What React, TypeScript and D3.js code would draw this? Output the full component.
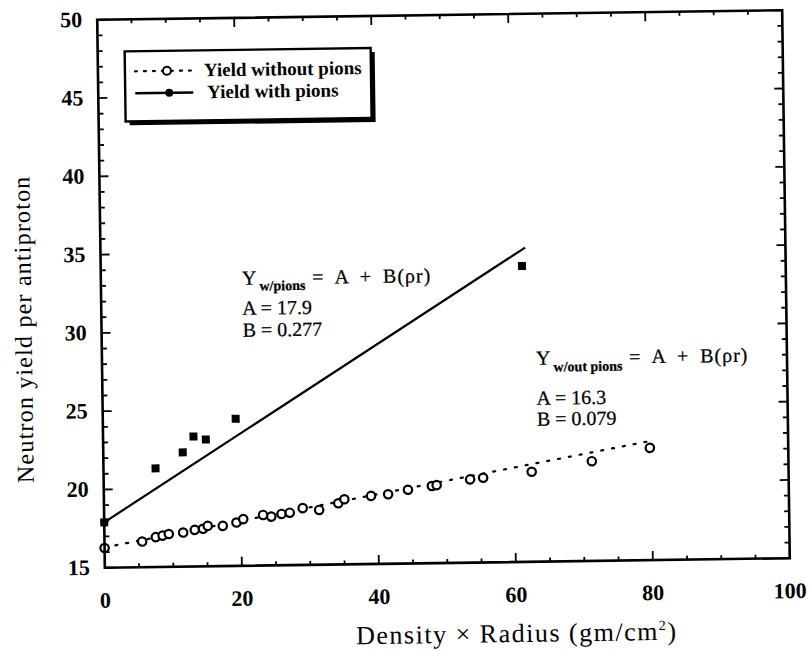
import React from "react";
import * as d3 from "d3";

// ---- data ----
const withoutPionsX = [0, 5.5, 7.5, 8.5, 9.4, 11.5, 13.2, 14.4, 15.1, 17.3, 19.3, 20.3, 23.2, 24.4, 25.9, 27.1, 29.0, 31.4, 34.2, 35.1, 39.0, 41.5, 44.4, 47.9, 48.6, 53.5, 55.4, 62.5, 71.3, 79.8];
const withoutPionsY = [16.26, 16.64, 16.91, 17.0, 17.1, 17.18, 17.34, 17.4, 17.58, 17.57, 17.77, 17.98, 18.23, 18.12, 18.28, 18.35, 18.63, 18.5, 18.91, 19.16, 19.35, 19.44, 19.71, 19.93, 19.98, 20.32, 20.41, 20.75, 21.37, 22.17];
const withPionsX = [0, 7.6, 11.6, 13.2, 15.0, 19.4, 61.5];
const withPionsY = [17.9, 21.3, 22.3, 23.3, 23.1, 24.4, 33.9];
const fitWithoutA = 16.3;
const fitWithoutB = 0.079;
const fitWithoutRange = [0, 80];
const fitWithA = 17.9;
const fitWithB = 0.277;
const fitWithRange = [0, 62];
const xTickLabels = [0, 20, 40, 60, 80, 100];
const yTickLabels = [15, 20, 25, 30, 35, 40, 45, 50];
const legendLabels = ["Yield without pions", "Yield with pions"];

const W = 809, H = 651;
const L = 101, T = 15, PW = 685, PH = 548;
const FONT = "Liberation Serif";

export default function App() {
  const x = d3.scaleLinear().domain([0, 100]).range([L, L + PW]);
  const y = d3.scaleLinear().domain([15, 50]).range([T + PH, T]);
  const xMinor = d3.range(0, 101, 5);
  const yMinor = d3.range(15, 51, 1);
  const line = d3.line<number>().x((d) => x(d[0])).y((d) => y(d[1]));
  const fitWithout = fitWithoutRange.map((v) => [v, fitWithoutA + fitWithoutB * v]);
  const fitWith = fitWithRange.map((v) => [v, fitWithA + fitWithB * v]);
  const cx = L + PW / 2, cy = T + PH / 2;
  const ann = { fontSize: 20, stroke: "#000", strokeWidth: 0.25, fontFamily: FONT } as const;
  const tick = { fontSize: 22, fontWeight: "bold", fontFamily: FONT } as const;

  return (
    <div style={{ position: "fixed", left: 0, top: 0 }}>
      <svg width={W} height={H} style={{ display: "block", background: "#fff" }} fontFamily={FONT}>
        <g transform={`rotate(-0.8, ${cx}, ${cy})`}>
          {/* fit lines */}
          <path d={line(fitWith as any) || ""} fill="none" stroke="#000" strokeWidth={2.2} />
          <path d={line(fitWithout as any) || ""} fill="none" stroke="#000" strokeWidth={2.2} strokeDasharray="2 9" strokeLinecap="round" />
          {/* points */}
          {withoutPionsX.map((v, i) => (
            <circle key={"o" + i} cx={x(v)} cy={y(withoutPionsY[i])} r={4.2} fill="#fff" stroke="#000" strokeWidth={2.2} />
          ))}
          {withPionsX.map((v, i) => (
            <rect key={"s" + i} x={x(v) - 4} y={y(withPionsY[i]) - 4} width={8} height={8} fill="#000" />
          ))}
          {/* frame */}
          <rect x={L} y={T} width={PW} height={PH} fill="none" stroke="#000" strokeWidth={2.6} />
          {xMinor.map((v) => {
            const len = v % 20 === 0 ? 9 : 4;
            return (
              <g key={"xt" + v}>
                <line x1={x(v)} x2={x(v)} y1={T + PH} y2={T + PH - len} stroke="#000" strokeWidth={1.8} />
                <line x1={x(v)} x2={x(v)} y1={T} y2={T + len} stroke="#000" strokeWidth={1.8} />
              </g>
            );
          })}
          {yMinor.map((v) => {
            const len = v % 5 === 0 ? 9 : 5;
            return (
              <g key={"yt" + v}>
                <line x1={L} x2={L + len} y1={y(v)} y2={y(v)} stroke="#000" strokeWidth={1.8} />
                <line x1={L + PW} x2={L + PW - len} y1={y(v)} y2={y(v)} stroke="#000" strokeWidth={1.8} />
              </g>
            );
          })}
          {/* tick labels */}
          {xTickLabels.map((v) => (
            <text key={"xl" + v} x={x(v)} y={T + PH + 40} textAnchor="middle" {...tick}>{v}</text>
          ))}
          {yTickLabels.map((v) => (
            <text key={"yl" + v} x={L - 15} y={y(v) + 7} textAnchor="end" {...tick}>{v}</text>
          ))}
          {/* axis titles */}
          <text x={x(60)} y={643} textAnchor="middle" fontSize={26} letterSpacing={1.5} fontFamily={FONT}>
            Density × Radius (gm/cm<tspan dy={-10} fontSize={14}>2</tspan><tspan dy={10}>)</tspan>
          </text>
          <text transform={`translate(31, ${y(30.3)}) rotate(-90)`} textAnchor="middle" fontSize={24} letterSpacing={1.2} fontFamily={FONT}>
            Neutron yield per antiproton
          </text>
          {/* annotations */}
          <text x={242} y={282} {...ann}>
            Y<tspan dy={6} fontSize={14} fontWeight="bold" dx={3}>w/pions</tspan>
            <tspan dy={-6} dx={7} wordSpacing={5} letterSpacing={1}>= A + B(ρr)</tspan>
          </text>
          <text x={242} y={312} {...ann}>A = 17.9</text>
          <text x={242} y={334} {...ann}>B = 0.277</text>
          <text x={535} y={366} {...ann}>
            Y<tspan dy={7} fontSize={14} fontWeight="bold" dx={3}>w/out pions</tspan>
            <tspan dy={-7} dx={7} wordSpacing={5} letterSpacing={1}>= A + B(ρr)</tspan>
          </text>
          <text x={535} y={406} {...ann}>A = 16.3</text>
          <text x={535} y={427} {...ann}>B = 0.079</text>
          {/* legend */}
          <rect x={132} y={51} width={246} height={70} fill="#000" />
          <rect x={128} y={47} width={246} height={70} fill="#fff" stroke="#000" strokeWidth={2.4} />
          <line x1={138} x2={196} y1={67} y2={67} stroke="#000" strokeWidth={2.2} strokeDasharray="2 7" strokeLinecap="round" />
          <circle cx={170} cy={67} r={4} fill="#fff" stroke="#000" strokeWidth={2} />
          <text x={207} y={73} fontSize={19} fontWeight="bold" fontFamily={FONT}>{legendLabels[0]}</text>
          <line x1={138} x2={196} y1={89} y2={89} stroke="#000" strokeWidth={2.4} />
          <circle cx={172} cy={89} r={4} fill="#000" />
          <text x={210} y={95} fontSize={19} fontWeight="bold" fontFamily={FONT}>{legendLabels[1]}</text>
        </g>
      </svg>
    </div>
  );
}
